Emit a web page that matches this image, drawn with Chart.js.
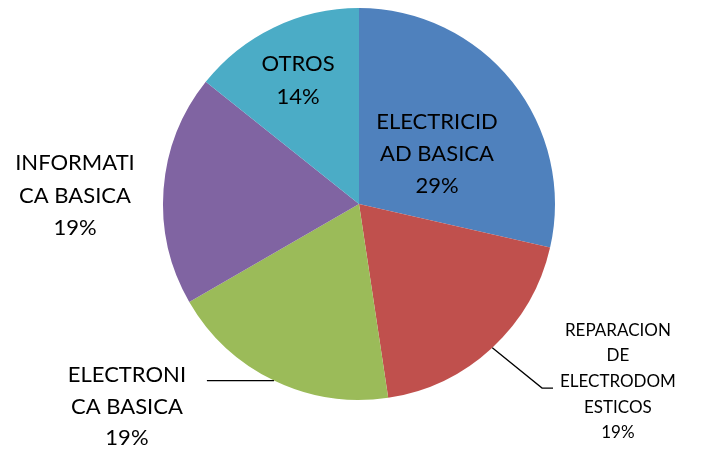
<!DOCTYPE html>
<html>
<head>
<meta charset="utf-8">
<script src="https://cdn.jsdelivr.net/npm/chart.js@4/dist/chart.umd.min.js"></script>
<style>
    html, body { margin: 0; padding: 0; background: #fff; }
    #wrap { width: 712px; height: 459px; position: relative; }
</style>
</head>
<body>
<div id="wrap"><canvas id="grafico"></canvas></div>
<script>
    /*      DATOS DEL GRAFICO     */
    var categorias = ['ELECTRICIDAD BASICA', 'REPARACION DE ELECTRODOMESTICOS', 'ELECTRONICA BASICA', 'INFORMATICA BASICA', 'OTROS'];
    var valores = [6, 4, 4, 4, 3];
    // como Excel parte las etiquetas en lineas
    var etiquetas = [
        ['ELECTRICID', 'AD BASICA'],
        ['REPARACION', 'DE', 'ELECTRODOM', 'ESTICOS'],
        ['ELECTRONI', 'CA BASICA'],
        ['INFORMATI', 'CA BASICA'],
        ['OTROS']
    ];
    var colores = ['#4F81BD', '#C0504D', '#9BBB59', '#8064A2', '#4BACC6'];

    // posicion de cada etiqueta relativa al centro (en radios)
    var posEtiquetas = [
        { x: 0.398, y: -0.258, size: 22, lh: 32 },
        { x: 1.321, y: 0.906, size: 17, lh: 25.7 },
        { x: -1.184, y: 1.033, size: 22, lh: 31.5 },
        { x: -1.449, y: -0.043, size: 22, lh: 32.5 },
        { x: -0.311, y: -0.630, size: 22, lh: 33 }
    ];
    // lineas guia (puntos relativos al centro, en radios)
    var guias = {
        1: [{ x: 0.934, y: 0.939 }, { x: 0.990, y: 0.939 }],
        2: [{ x: -0.776, y: null }]
    };

    var etiquetasPlugin = {
        id: 'etiquetasPie',
        afterDatasetsDraw: function(chart) {
            var ctx = chart.ctx;
            var meta = chart.getDatasetMeta(0);
            var total = valores.reduce(function(a, b) { return a + b; }, 0);
            ctx.save();
            meta.data.forEach(function(arc, i) {
                var cx = arc.x, cy = arc.y, r = arc.outerRadius;
                var mid = (arc.startAngle + arc.endAngle) / 2;
                // linea guia
                if (guias[i]) {
                    var ex = cx + Math.cos(mid) * r;
                    var ey = cy + Math.sin(mid) * r;
                    ctx.beginPath();
                    ctx.strokeStyle = '#000';
                    ctx.lineWidth = 1.3;
                    ctx.moveTo(ex, ey);
                    guias[i].forEach(function(p) {
                        var py = p.y === null ? ey : cy + p.y * r;
                        ctx.lineTo(cx + p.x * r, py);
                    });
                    ctx.stroke();
                }
                var pos = posEtiquetas[i];
                var lineas = etiquetas[i].concat([Math.round(valores[i] / total * 100) + '%']);
                var lx = cx + pos.x * r;
                var ly = cy + pos.y * r - (lineas.length - 1) * pos.lh / 2;
                ctx.fillStyle = '#000';
                ctx.font = pos.size + 'px Lato, "Open Sans", sans-serif';
                ctx.textAlign = 'center';
                ctx.textBaseline = 'middle';
                lineas.forEach(function(t, k) {
                    ctx.fillText(t, lx, ly + k * pos.lh);
                });
            });
            ctx.restore();
        }
    };

    var ctx = document.getElementById('grafico').getContext('2d');
    var myChart = new Chart(ctx, {
        type: 'pie',
        data: {
            labels: categorias,
            datasets: [{
                data: valores,
                backgroundColor: colores,
                borderWidth: 0
            }]
        },
        options: {
            responsive: true,
            maintainAspectRatio: false,
            animation: false,
            layout: {
                padding: { left: 163, right: 157, top: 8, bottom: 59 }
            },
            plugins: {
                legend: { display: false },
                tooltip: { enabled: false }
            }
        },
        plugins: [etiquetasPlugin]
    });
</script>
</body>
</html>
